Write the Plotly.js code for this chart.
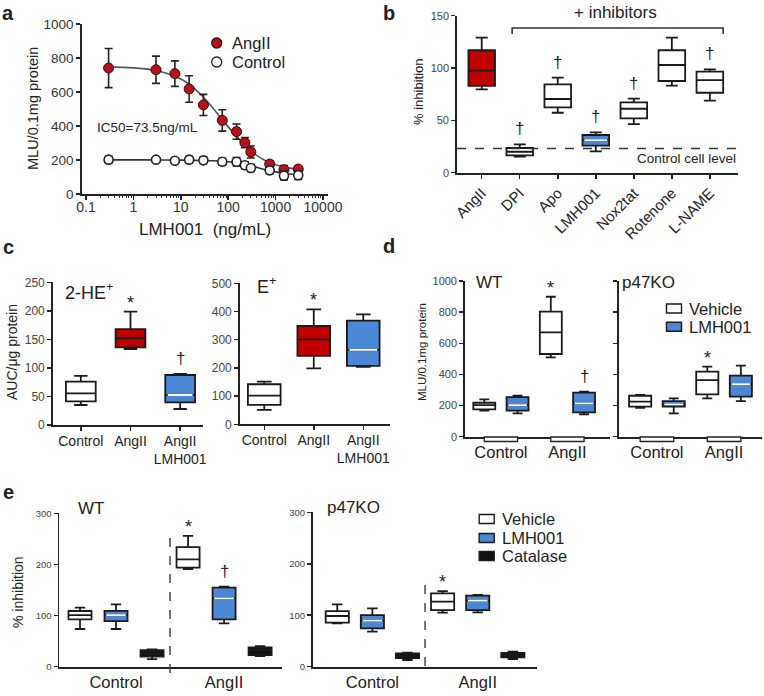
<!DOCTYPE html>
<html>
<head>
<meta charset="utf-8">
<script src="https://cdn.plot.ly/plotly-3.0.1.min.js"></script>
<style>
  html, body { margin: 0; padding: 0; background: #fff; }
  #chart { width: 764px; height: 696px; }
</style>
</head>
<body>
<div id="chart"></div>
<script>
// ---------- panel a: dose response to LMH001 ----------
const doseA = [0.3, 3, 7.5, 15, 30, 75, 150, 225, 300, 750, 1500, 3000];
const angA = [741, 731, 708, 618, 524, 433, 367, 302, 247, 176, 143, 147];
const angErrA = [115, 80, 75, 78, 62, 63, 45, 30, 35, 20, 25, 15];
const ctrlA = [202, 202, 196, 202, 198, 190, 190, 169, 153, 139, 108, 110];
const ctrlErrA = [20, 10, 8, 20, 20, 20, 25, 20, 20, 20, 25, 25];
// fitted curves
const fitDoseA = [0.3, 1, 3, 10, 20, 40, 75, 150, 300, 600, 1000, 2000, 3500];
const fitAngA = [748, 742, 726, 676, 617, 531, 437, 338, 252, 197, 172, 152, 143];
const fitCtrlA = [201, 201, 200, 199, 198, 196, 193, 184, 166, 143, 130, 118, 113];
const xTicksA = ['0.1', '1', '10', '100', '1000', '10000'];
const seriesA = ['AngII', 'Control'];

// ---------- panel b: inhibitors ----------
const catsB = ['AngII', 'DPI', 'Apo', 'LMH001', 'Nox2tat', 'Rotenone', 'L-NAME'];
const lowB = [79.6, 15.3, 57.3, 20.4, 46.5, 83.1, 68.8];
const q1B = [83, 16.6, 62.4, 25.8, 51.9, 87.6, 76.4];
const medB = [97.5, 20, 70.4, 31.2, 61.1, 102.9, 88.5];
const q3B = [117, 23.6, 84.4, 36, 67.2, 117, 96.5];
const highB = [129, 27, 90.8, 38.5, 70.7, 129, 98.7];
const marksB = ['', '†', '†', '†', '†', '', '†'];
const controlLevelB = 23.2;

// ---------- panel c: 2-HE+ and E+ ----------
const catsC = ['Control', 'AngII', 'AngII<br>LMH001'];
const lowHE = [35, 133, 28];
const q1HE = [41.5, 136, 39.7];
const medHE = [55.5, 152, 52.6];
const q3HE = [75.9, 168, 87.6];
const highHE = [85.9, 198.6, 89.4];
const marksHE = ['', '*', '†'];
const lowE = [50.8, 198.6, 203.3];
const q1E = [68.6, 242.3, 206.9];
const medE = [101.7, 301.4, 263.6];
const q3E = [142, 348.7, 367.6];
const highE = [151, 407.8, 390];
const marksE = ['', '*', ''];

// ---------- panel d: WT / p47KO, vehicle vs LMH001 ----------
const groupsD = ['Control', 'AngII'];
const treatD = ['Vehicle', 'LMH001'];
const lowDWT = [167, 150, 510, 143.5];
const q1DWT = [175.6, 167, 531, 156];
const medDWT = [203, 203, 670, 214];
const q3DWT = [218, 254.8, 803, 282.7];
const highDWT = [239.8, 263, 899, 289];
const marksDWT = ['', '', '*', '†'];
const lowDKO = [186, 150, 246, 229];
const q1DKO = [193, 193, 272, 257];
const medDKO = [225, 208, 364, 338];
const q3DKO = [263, 229, 417.6, 391.9];
const highDKO = [267.7, 246, 449.7, 456];
const marksDKO = ['', '', '*', ''];

// ---------- panel e: WT / p47KO with catalase ----------
const groupsE = ['Control', 'AngII'];
const treatE = ['Vehicle', 'LMH001', 'Catalase'];
const lowEWT = [73.7, 73.7, 15, 191, 84.8, 20.9];
const q1EWT = [92.6, 89.3, 19.6, 193.7, 92.6, 22.8];
const medEWT = [101, 101, 26, 210, 133.7, 32.6];
const q3EWT = [108.9, 109, 32.6, 234, 154.6, 37.8];
const highEWT = [115.4, 122, 33.9, 255.7, 156.5, 40.4];
const marksEWT = ['', '', '', '*', '†', ''];
const lowEKO = [84.2, 68, 13, 105, 105.6, 15];
const q1EKO = [85.5, 74.5, 16.8, 110, 110, 18];
const medEKO = [98.5, 89.4, 20.7, 126.3, 128.3, 22.7];
const q3EKO = [108, 100.4, 25.9, 142.5, 138, 26.6];
const highEKO = [121, 113.4, 27.2, 147, 139.3, 29];
const marksEKO = ['', '', '', '*', '', ''];

// ---------- helpers ----------
const W = 764, H = 696;
const fx = p => p / W;
const fy = p => 1 - p / H;
const domX = (l, r) => [l / W, r / W];
const domY = (top, bottom) => [1 - bottom / H, 1 - top / H];

const RED = '#c00000', BLUE = '#4b87d2', WHITE = '#ffffff', BLACK = '#111111', EDGE = '#1a1a1a';
const FONT = 'Liberation Sans, Arial, sans-serif';

const traces = [];
const annotations = [];
const shapes = [];

function axis(extra) {
    return Object.assign({
        showline: true, linecolor: '#222', linewidth: 1.8,
        showgrid: false, zeroline: false,
        ticks: 'outside', ticklen: 4, tickwidth: 1.5, tickcolor: '#222',
        tickfont: { size: 12, color: '#333' }, fixedrange: true
    }, extra);
}

// paper text, anchors given explicitly so 'auto' does not shift them
function text(x, y, str, size, extra) {
    annotations.push(Object.assign({
        xref: 'paper', yref: 'paper', x: x, y: y, text: str, showarrow: false,
        xanchor: 'center', yanchor: 'middle',
        font: { size: size, color: '#222', family: FONT }
    }, extra));
}

// hand-drawn legend rows (swatch + label)
function legendRow(px, py, label, swatch) {
    if (swatch.kind === 'circle') {
        shapes.push({ type: 'circle', xref: 'paper', yref: 'paper',
            x0: fx(px - 5), x1: fx(px + 5), y0: fy(py + 5), y1: fy(py - 5),
            fillcolor: swatch.fill, line: { color: swatch.line, width: 1.3 } });
    } else {
        shapes.push({ type: 'rect', xref: 'paper', yref: 'paper',
            x0: fx(px - 7.5), x1: fx(px + 7.5), y0: fy(py + 4.5), y1: fy(py - 4.5),
            fillcolor: swatch.fill, line: { color: EDGE, width: 1.4 } });
    }
    text(fx(px + 13), fy(py), label, 16.5, { xanchor: 'left' });
}

// one panel of boxes, one trace per box so each has its own fill
function boxes(xa, ya, stats, fills, width, marks) {
    for (let i = 0; i < stats.med.length; i++) {
        traces.push({
            type: 'box', xaxis: xa, yaxis: ya, x: [i],
            lowerfence: [stats.low[i]], q1: [stats.q1[i]], median: [stats.med[i]],
            q3: [stats.q3[i]], upperfence: [stats.high[i]],
            width: width, fillcolor: fills[i],
            line: { color: EDGE, width: 1.8 }, whiskerwidth: 0.45,
            hoverinfo: 'skip', showlegend: false
        });
        // the blue boxes have a white median line
        if (fills[i] === BLUE) {
            traces.push({
                type: 'scatter', mode: 'lines', xaxis: xa, yaxis: ya,
                x: [i - width / 2 + 0.05, i + width / 2 - 0.05],
                y: [stats.med[i], stats.med[i]],
                line: { color: '#ffffff', width: 1.8 }, hoverinfo: 'skip', showlegend: false
            });
        }
        if (marks[i]) {
            const star = marks[i] === '*';
            annotations.push({
                xref: xa, yref: ya, x: i, y: stats.high[i], text: marks[i], showarrow: false,
                xanchor: 'center', yanchor: 'bottom', yshift: star ? -3 : 4,
                font: { size: star ? 18 : 17, color: '#222', family: FONT }
            });
        }
    }
}

// ---------- panel a traces ----------
traces.push({
    x: fitDoseA, y: fitAngA, type: 'scatter', mode: 'lines', line: { color: '#555', width: 1.6, shape: 'spline' },
    xaxis: 'x', yaxis: 'y', showlegend: false, hoverinfo: 'skip'
});
traces.push({
    x: fitDoseA, y: fitCtrlA, type: 'scatter', mode: 'lines', line: { color: '#333', width: 1.6, shape: 'spline' },
    xaxis: 'x', yaxis: 'y', showlegend: false, hoverinfo: 'skip'
});
traces.push({
    x: doseA, y: angA, name: seriesA[0], type: 'scatter', mode: 'markers', xaxis: 'x', yaxis: 'y',
    error_y: { type: 'data', array: angErrA, color: '#222', thickness: 1.6, width: 4 },
    marker: { color: '#b3131b', size: 10, line: { color: '#400000', width: 1 } },
    cliponaxis: false, showlegend: false
});
traces.push({
    x: doseA, y: ctrlA, name: seriesA[1], type: 'scatter', mode: 'markers', xaxis: 'x', yaxis: 'y',
    error_y: { type: 'data', array: ctrlErrA, color: '#222', thickness: 1.6, width: 4 },
    marker: { color: '#ffffff', size: 9, line: { color: '#222', width: 1.6 } },
    cliponaxis: false, showlegend: false
});
// an overlaid, unlabeled log axis carries the minor ticks of panel a
const minorA = [];
for (let d = 0.1; d < 10000; d *= 10) {
    for (let k = 2; k <= 9; k++) minorA.push(+(d * k).toPrecision(3));
}
traces.push({ x: [1], y: [0], type: 'scatter', mode: 'markers', marker: { opacity: 0 },
    xaxis: 'x9', yaxis: 'y', showlegend: false, hoverinfo: 'skip' });

// ---------- box panels ----------
boxes('x2', 'y2', { low: lowB, q1: q1B, med: medB, q3: q3B, high: highB },
    [RED, WHITE, WHITE, BLUE, WHITE, WHITE, WHITE], 0.7, marksB);
boxes('x3', 'y3', { low: lowHE, q1: q1HE, med: medHE, q3: q3HE, high: highHE },
    [WHITE, RED, BLUE], 0.6, marksHE);
boxes('x4', 'y4', { low: lowE, q1: q1E, med: medE, q3: q3E, high: highE },
    [WHITE, RED, BLUE], 0.66, marksE);
boxes('x5', 'y5', { low: lowDWT, q1: q1DWT, med: medDWT, q3: q3DWT, high: highDWT },
    [WHITE, BLUE, WHITE, BLUE], 0.66, marksDWT);
boxes('x6', 'y6', { low: lowDKO, q1: q1DKO, med: medDKO, q3: q3DKO, high: highDKO },
    [WHITE, BLUE, WHITE, BLUE], 0.66, marksDKO);
boxes('x7', 'y7', { low: lowEWT, q1: q1EWT, med: medEWT, q3: q3EWT, high: highEWT },
    [WHITE, BLUE, BLACK, WHITE, BLUE, BLACK], 0.64, marksEWT);
boxes('x8', 'y8', { low: lowEKO, q1: q1EKO, med: medEKO, q3: q3EKO, high: highEKO },
    [WHITE, BLUE, BLACK, WHITE, BLUE, BLACK], 0.66, marksEKO);

// ---------- panel b extras ----------
shapes.push({
    type: 'line', xref: 'x2 domain', yref: 'y2', x0: 0, x1: 1, y0: controlLevelB, y1: controlLevelB,
    line: { color: '#333', width: 1.5, dash: 'dash' }
});
annotations.push({
    xref: 'x2 domain', yref: 'y2', x: 1, y: controlLevelB, xanchor: 'right', yanchor: 'top', yshift: -1,
    text: 'Control cell level', showarrow: false, font: { size: 13.5, color: '#222', family: FONT }
});
const bx0 = 1 - 0.2, bx1 = catsB.length - 1 + 0.35;
shapes.push({
    type: 'path', xref: 'x2', yref: 'paper',
    path: `M ${bx0},${fy(34)} L ${bx0},${fy(28)} L ${bx1},${fy(28)} L ${bx1},${fy(34)}`,
    line: { color: '#333', width: 1.6 }
});
text(fx(615), fy(13), '+ inhibitors', 17);

// ---------- panel d extras: group bars under the axis ----------
['x5', 'x6'].forEach(xa => {
    for (let g = 0; g < groupsD.length; g++) {
        shapes.push({
            type: 'rect', xref: xa, yref: 'paper', x0: g * 2, x1: g * 2 + 1,
            y0: fy(441.5), y1: fy(437), line: { color: '#222', width: 1.3 }, fillcolor: '#fff'
        });
    }
});

// ---------- panel e extras: dashed separators ----------
shapes.push({ type: 'line', xref: 'x7', yref: 'paper', x0: 2.5, x1: 2.5, y0: fy(673), y1: fy(536),
    line: { color: '#444', width: 1.5, dash: 'dash' } });
shapes.push({ type: 'line', xref: 'x8', yref: 'paper', x0: 2.5, x1: 2.5, y0: fy(666), y1: fy(582),
    line: { color: '#444', width: 1.5, dash: 'dash' } });

// ---------- legends ----------
legendRow(216.7, 43, seriesA[0], { kind: 'circle', fill: '#b3131b', line: '#400000' });
legendRow(216.7, 62, seriesA[1], { kind: 'circle', fill: '#ffffff', line: '#222' });
legendRow(674, 308.5, treatD[0], { kind: 'rect', fill: WHITE });
legendRow(674, 326.7, treatD[1], { kind: 'rect', fill: BLUE });
legendRow(486.7, 519, treatE[0], { kind: 'rect', fill: WHITE });
legendRow(486.7, 538, treatE[1], { kind: 'rect', fill: BLUE });
legendRow(486.7, 556, treatE[2], { kind: 'rect', fill: BLACK });

// ---------- labels ----------
text(fx(8), fy(13), '<b>a</b>', 20);
text(fx(389), fy(13), '<b>b</b>', 20);
text(fx(8), fy(247), '<b>c</b>', 20);
text(fx(389), fy(246), '<b>d</b>', 20);
text(fx(8), fy(492), '<b>e</b>', 20);

text(fx(33), fy(109), 'MLU/0.1mg protein', 14.5, { textangle: -90 });
text(fx(205), fy(229), 'LMH001\u00a0 (ng/mL)', 17);
text(fx(95), fy(127), 'IC50=73.5ng/mL', 13.5, { xanchor: 'left' });

text(fx(418), fy(92), '% inhibition', 13, { textangle: -90 });

text(fx(12), fy(352), 'AUC/μg protein', 14, { textangle: -90 });
text(fx(63), fy(291), '2-HE<sup>+</sup>', 18, { xanchor: 'left' });
text(fx(255), fy(285), 'E<sup>+</sup>', 18, { xanchor: 'left' });

text(fx(422), fy(352), 'MLU/0.1mg protein', 11.5, { textangle: -90 });
text(fx(474), fy(282), 'WT', 17, { xanchor: 'left' });
text(fx(620), fy(282), 'p47KO', 17, { xanchor: 'left' });

text(fx(18), fy(592), '% inhibition', 14, { textangle: -90 });
text(fx(76), fy(508), 'WT', 17, { xanchor: 'left' });
text(fx(325), fy(507), 'p47KO', 17, { xanchor: 'left' });

const layout = {
    width: W, height: H,
    margin: { l: 0, r: 0, t: 0, b: 0 },
    paper_bgcolor: '#fff', plot_bgcolor: 'rgba(0,0,0,0)',
    font: { family: FONT, color: '#222' },
    boxmode: 'overlay',
    showlegend: false,

    xaxis: axis({ domain: domX(82, 328), anchor: 'y', type: 'log', range: [-1.084, 4.105],
        tickmode: 'array', tickvals: [0.1, 1, 10, 100, 1000, 10000], ticktext: xTicksA,
        ticklabelstandoff: -5, tickfont: { size: 14, color: '#333' } }),
    xaxis9: { overlaying: 'x', anchor: 'y', domain: domX(82, 328), type: 'log', range: [-1.084, 4.105],
        showline: false, showgrid: false, zeroline: false, showticklabels: false,
        ticks: 'outside', ticklen: 3, tickwidth: 1, tickcolor: '#333',
        tickmode: 'array', tickvals: minorA, fixedrange: true },
    yaxis: axis({ domain: domY(24, 194), anchor: 'x', range: [0, 1000], dtick: 200,
        tickfont: { size: 13.5, color: '#333' } }),

    xaxis2: axis({ domain: domX(457, 738), anchor: 'y2', type: 'linear', range: [-0.65, 6.74],
        tickmode: 'array', tickvals: catsB.map((c, i) => i), ticktext: catsB, tickangle: -45,
        tickfont: { size: 15, color: '#222' } }),
    yaxis2: axis({ domain: domY(15.7, 172.7), anchor: 'x2', range: [0, 150], dtick: 50,
        tickfont: { size: 11, color: '#444' } }),

    xaxis3: axis({ domain: domX(53, 203), anchor: 'y3', type: 'linear', range: [-0.56, 2.46],
        tickmode: 'array', tickvals: catsC.map((c, i) => i), ticktext: catsC, ticklabelstandoff: -2,
        tickfont: { size: 14, color: '#222' } }),
    yaxis3: axis({ domain: domY(282.3, 425), anchor: 'x3', range: [0, 250], dtick: 50,
        tickfont: { size: 12, color: '#444' } }),

    xaxis4: axis({ domain: domX(240, 390), anchor: 'y4', type: 'linear', range: [-0.49, 2.54],
        tickmode: 'array', tickvals: catsC.map((c, i) => i), ticktext: catsC, ticklabelstandoff: -2,
        tickfont: { size: 14, color: '#222' } }),
    yaxis4: axis({ domain: domY(283.3, 424.3), anchor: 'x4', range: [0, 500], dtick: 100,
        tickfont: { size: 12, color: '#444' } }),

    xaxis5: axis({ domain: domX(465, 610), anchor: 'y5', type: 'linear', range: [-0.58, 3.78],
        ticks: '', tickmode: 'array', tickvals: [0.5, 2.5], ticktext: groupsD, ticklabelstandoff: 0,
        tickfont: { size: 16.5, color: '#222' } }),
    yaxis5: axis({ domain: domY(281, 436.7), anchor: 'x5', range: [0, 1000], dtick: 200,
        tickfont: { size: 11, color: '#444' } }),

    xaxis6: axis({ domain: domX(619, 762), anchor: 'y6', type: 'linear', range: [-0.63, 3.63],
        ticks: '', tickmode: 'array', tickvals: [0.5, 2.5], ticktext: groupsD, ticklabelstandoff: 0,
        tickfont: { size: 16.5, color: '#222' } }),
    yaxis6: axis({ domain: domY(281, 436.7), anchor: 'x6', range: [0, 1000], dtick: 200,
        showticklabels: false }),

    xaxis7: axis({ domain: domX(59.3, 281.7), anchor: 'y7', type: 'linear', range: [-0.575, 5.6],
        ticks: '', tickmode: 'array', tickvals: [1, 4], ticktext: groupsE, ticklabelstandoff: 0,
        tickfont: { size: 16.5, color: '#222' } }),
    yaxis7: axis({ domain: domY(513.3, 666.7), anchor: 'x7', range: [0, 300], dtick: 100,
        tickfont: { size: 9.5, color: '#444' } }),

    xaxis8: axis({ domain: domX(312.7, 536.7), anchor: 'y8', type: 'linear', range: [-0.7, 5.68],
        ticks: '', tickmode: 'array', tickvals: [1, 4], ticktext: groupsE, ticklabelstandoff: 0,
        tickfont: { size: 16.5, color: '#222' } }),
    yaxis8: axis({ domain: domY(512.3, 666.7), anchor: 'x8', range: [0, 300], dtick: 100,
        tickfont: { size: 9.5, color: '#444' } }),

    shapes: shapes,
    annotations: annotations
};

Plotly.newPlot('chart', traces, layout, { displayModeBar: false, staticPlot: true });
</script>
</body>
</html>
